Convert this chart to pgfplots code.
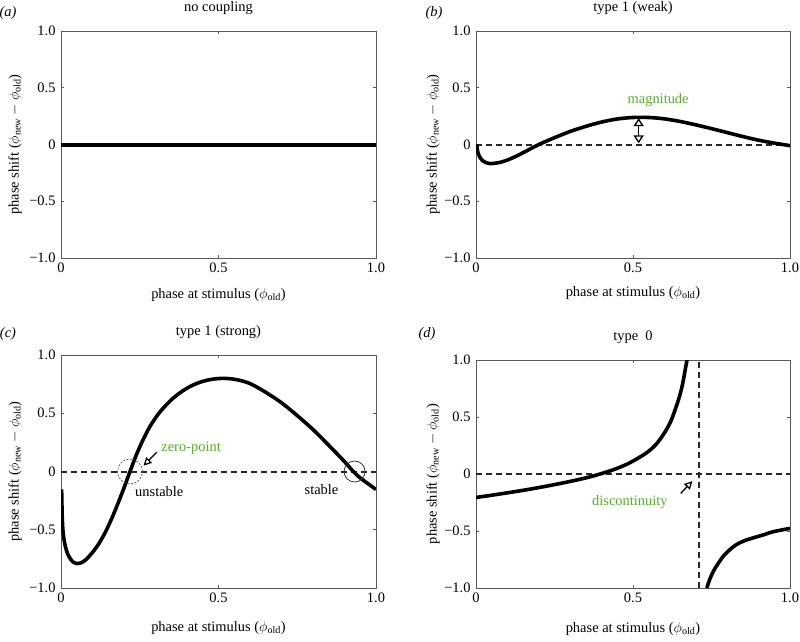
\documentclass[border=0pt]{standalone}
\usepackage{fontspec}
\setmainfont{Liberation Serif}
\usepackage{pgfplots}
\pgfplotsset{compat=1.18}
\usetikzlibrary{arrows.meta}
\definecolor{annot}{RGB}{82,176,36}
\definecolor{frame}{RGB}{90,90,90}

\pgfplotsset{
  prc/.style={
    scale only axis,
    xmin=0, xmax=1, ymin=-1, ymax=1,
    xtick={0,0.5,1}, ytick={-1,-0.5,0,0.5,1},
    xticklabels={0,0.5,1.0},
    yticklabels={−1.0,−0.5,0,0.5,1.0},
    tick align=inside,
    major tick length=3bp,
    axis line style={frame, line width=0.6bp},
    tick style={frame, line width=0.6bp},
    font=\fontsize{14.5}{17}\selectfont,
    /pgf/number format/assume math mode=true,
    xticklabel style={yshift=-1bp},
    yticklabel style={xshift=-2bp},
    every axis title/.style={at={(0.5,1)}, anchor=center, yshift=23bp},
    xlabel={phase at stimulus ($\phi_{\mathrm{old}}$)},
    ylabel={phase shift ($\phi_{\mathrm{new}}-\phi_{\mathrm{old}}$)},
  },
  xlab/.style={every axis x label/.style={at={(0.5,0)}, anchor=center, yshift=-#1}},
  ylab/.style={every axis y label/.style={at={(0,0.5)}, anchor=center, rotate=90, yshift=#1}},
  curve/.style={black, line width=3.6bp, smooth},
  zeroline/.style={black!85, line width=2bp, dash pattern=on 6bp off 4bp},
}

\begin{document}
\begin{tikzpicture}
\useasboundingbox (0,0) rectangle (800bp,-642bp);
\tikzset{lab/.style={font=\fontsize{14.5}{17}\selectfont\itshape}}
\node[lab] at (8bp,-13bp) {(a)};
\node[lab] at (434bp,-13bp) {(b)};
\node[lab] at (8bp,-334bp) {(c)};
\node[lab] at (427bp,-334bp) {(d)};

% (a) no coupling
\begin{axis}[prc, at={(61bp,-258bp)}, anchor=south west,
  width=315bp, height=227bp, title={no coupling}, xlab=37bp, ylab=46bp]
\addplot[black, line width=4bp] coordinates {(0,0)(1,0)};
\end{axis}

% (b) type 1 weak
\begin{axis}[prc, at={(476bp,-258bp)}, anchor=south west,
  width=314bp, height=227bp, title={type 1 (weak)}, xlab=35bp, ylab=43bp]
\addplot[zeroline] coordinates {(0,0)(1,0)};
\addplot[curve] coordinates {
  (0.002,0)(0.006,-0.07)(0.012,-0.11)(0.02,-0.14)(0.03,-0.158)(0.045,-0.168)
  (0.06,-0.165)(0.08,-0.155)(0.1,-0.137)(0.125,-0.107)(0.15,-0.072)
  (0.175,-0.036)(0.2,0.0)(0.25,0.06)(0.3,0.115)(0.35,0.16)(0.4,0.198)
  (0.45,0.225)(0.5,0.238)(0.55,0.238)(0.6,0.226)(0.65,0.203)(0.7,0.173)
  (0.75,0.14)(0.8,0.105)(0.85,0.07)(0.9,0.038)(0.95,0.012)(1.0,-0.01)};
\draw[line width=1.3bp,
  {Triangle[open,length=8bp,width=10bp]}-{Triangle[open,length=8bp,width=10bp]}]
  (axis cs:0.518,0.01) -- (axis cs:0.518,0.232);
\node[text=annot] at (axis cs:0.58,0.395) {magnitude};
\end{axis}

% (c) type 1 strong
\begin{axis}[prc, at={(61bp,-588bp)}, anchor=south west,
  width=315bp, height=233bp, title={type 1 (strong)}, xlab=40bp, ylab=46bp]
\addplot[zeroline] coordinates {(0,0)(1,0)};
\addplot[curve] coordinates {
  (0.002,-0.154)(0.004,-0.40)(0.007,-0.53)(0.012,-0.62)(0.02,-0.70)
  (0.03,-0.75)(0.04,-0.78)(0.05,-0.79)(0.06,-0.787)(0.07,-0.775)
  (0.08,-0.755)(0.09,-0.725)(0.1,-0.695)(0.12,-0.62)(0.14,-0.525)
  (0.16,-0.41)(0.18,-0.28)(0.2,-0.14)(0.22,0.007)(0.24,0.148)(0.26,0.27)
  (0.28,0.375)(0.3,0.46)(0.32,0.53)(0.35,0.615)(0.38,0.68)(0.41,0.73)
  (0.44,0.765)(0.47,0.787)(0.5,0.798)(0.53,0.798)(0.56,0.787)(0.6,0.755)
  (0.65,0.68)(0.7,0.59)(0.75,0.48)(0.8,0.36)(0.85,0.225)(0.9,0.085)
  (0.928,0)(0.95,-0.055)(1.0,-0.154)};
\addplot[only marks, mark=o, mark size=12.5bp,
  mark options={black!70, line width=0.7bp, dash pattern=on 2bp off 1.5bp}]
  coordinates {(0.219,0)};
\addplot[only marks, mark=o, mark size=10.5bp,
  mark options={black!80, line width=0.8bp}]
  coordinates {(0.932,0)};
\draw[line width=1.3bp, -{Triangle[open,length=8bp,width=8bp]}]
  (axis cs:0.304,0.166) -- (axis cs:0.262,0.05);
\node[text=annot] at (axis cs:0.413,0.196) {zero-point};
\node at (axis cs:0.312,-0.17) {unstable};
\node at (axis cs:0.827,-0.155) {stable};
\end{axis}

% (d) type 0
\begin{axis}[prc, at={(476bp,-588bp)}, anchor=south west,
  width=314bp, height=228bp, title={type\ \ 0}, xlab=41bp, ylab=43bp]
\addplot[zeroline] coordinates {(0,0)(1,0)};
\addplot[zeroline] coordinates {(0.709,-1)(0.709,1)};
\addplot[curve] coordinates {
  (0,-0.206)(0.05,-0.186)(0.1,-0.165)(0.15,-0.143)(0.2,-0.119)
  (0.25,-0.093)(0.3,-0.065)(0.35,-0.034)(0.395,0)(0.44,0.04)(0.48,0.085)
  (0.52,0.145)(0.55,0.2)(0.575,0.265)(0.6,0.36)(0.62,0.46)(0.635,0.57)
  (0.648,0.68)(0.658,0.79)(0.666,0.91)(0.672,1.0)};
\addplot[curve] coordinates {
  (0.735,-1.0)(0.745,-0.92)(0.756,-0.853)(0.77,-0.79)(0.788,-0.72)
  (0.81,-0.66)(0.83,-0.618)(0.855,-0.585)(0.883,-0.56)(0.915,-0.534)
  (0.947,-0.506)(1.0,-0.477)};
\draw[line width=1.3bp, -{Triangle[open,length=8bp,width=8bp]}]
  (axis cs:0.652,-0.17) -- (axis cs:0.689,-0.062);
\node[text=annot] at (axis cs:0.49,-0.25) {discontinuity};
\end{axis}
\end{tikzpicture}
\end{document}
